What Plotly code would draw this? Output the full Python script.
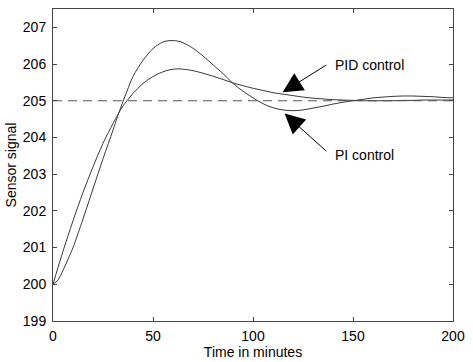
import plotly.graph_objects as go

# Time in minutes
t = [0, 2.5, 5, 7.5, 10, 15, 20, 25, 30, 32.2, 35, 37, 40, 45, 50, 55, 59, 63, 65, 70, 75, 80,
     85, 89.7, 95, 100, 105, 110, 115, 120, 125, 130, 135, 140, 145, 150, 155, 160, 165,
     170, 175, 180, 185, 190, 195, 200]

pid = [200.0, 200.46, 200.9, 201.32, 201.73, 202.5, 203.2, 203.84, 204.38, 204.6, 204.86, 205.0,
       205.2, 205.47, 205.66, 205.79, 205.85, 205.87, 205.86, 205.82, 205.75, 205.67,
       205.58, 205.49, 205.41, 205.34, 205.28, 205.22, 205.18, 205.14, 205.1, 205.07,
       205.05, 205.03, 205.02, 205.01, 205.0, 205.0, 205.0, 205.0, 205.01, 205.01,
       205.02, 205.02, 205.02, 205.02]

pi = [200.0, 200.12, 200.38, 200.68, 201.0, 201.78, 202.6, 203.42, 204.2, 204.56, 204.98, 205.26,
      205.66, 206.1, 206.42, 206.6, 206.64, 206.62, 206.58, 206.43, 206.22, 205.98,
      205.74, 205.49, 205.26, 205.08, 204.92, 204.81, 204.75, 204.73, 204.75, 204.8,
      204.85, 204.91, 204.96, 205.0, 205.04, 205.08, 205.1, 205.12, 205.13, 205.13,
      205.12, 205.11, 205.09, 205.08]

setpoint = 205
x_ticks = [0, 50, 100, 150, 200]
y_ticks = [199, 200, 201, 202, 203, 204, 205, 206, 207]

FONT = "Liberation Sans, Arial, Helvetica, sans-serif"
LINE = "#3a3a3a"
FS = 14

fig = go.Figure()
fig.add_trace(go.Scatter(x=t, y=pid, mode="lines", line=dict(color=LINE, width=1, shape="spline"),
                         showlegend=False))
fig.add_trace(go.Scatter(x=t, y=pi, mode="lines", line=dict(color=LINE, width=1, shape="spline"),
                         showlegend=False))
fig.add_trace(go.Scatter(x=[0, 200], y=[setpoint, setpoint], mode="lines",
                         line=dict(color="#555555", width=1, dash="9px,6px"), showlegend=False))

axis_common = dict(showgrid=False, zeroline=False, showline=True, linecolor="#444444",
                   linewidth=1, mirror="allticks", ticks="inside", ticklen=4,
                   tickcolor="#444444", tickfont=dict(family=FONT, size=FS, color="black"))

fig.update_xaxes(range=[0, 200], tickvals=x_ticks, ticklabelstandoff=2,
                 title=dict(text="Time in minutes", font=dict(family=FONT, size=FS, color="black"),
                            standoff=0),
                 **axis_common)
fig.update_yaxes(range=[199, 207.5], tickvals=y_ticks, ticklabelstandoff=3,
                 title=dict(text="Sensor signal", font=dict(family=FONT, size=FS, color="black"),
                            standoff=2),
                 **axis_common)

# arrows
fig.add_annotation(x=114.8, y=205.23, ax=137.4, ay=206.0, axref="x", ayref="y", text="",
                   showarrow=True, arrowhead=2, arrowsize=4, arrowwidth=1, arrowcolor="black")
fig.add_annotation(x=115.8, y=204.65, ax=137.4, ay=203.59, axref="x", ayref="y", text="",
                   showarrow=True, arrowhead=2, arrowsize=4, arrowwidth=1, arrowcolor="black")
fig.add_annotation(x=139.9, y=205.98, text="PID control", showarrow=False, xanchor="left",
                   yanchor="middle", font=dict(family=FONT, size=FS, color="black"))
fig.add_annotation(x=140.2, y=203.51, text="PI control", showarrow=False, xanchor="left",
                   yanchor="middle", font=dict(family=FONT, size=FS, color="black"))

fig.update_layout(width=473, height=362, margin=dict(l=53, r=14, t=8, b=34),
                  plot_bgcolor="white", paper_bgcolor="white",
                  font=dict(family=FONT, size=FS, color="black"))

fig.write_html("out.html")
